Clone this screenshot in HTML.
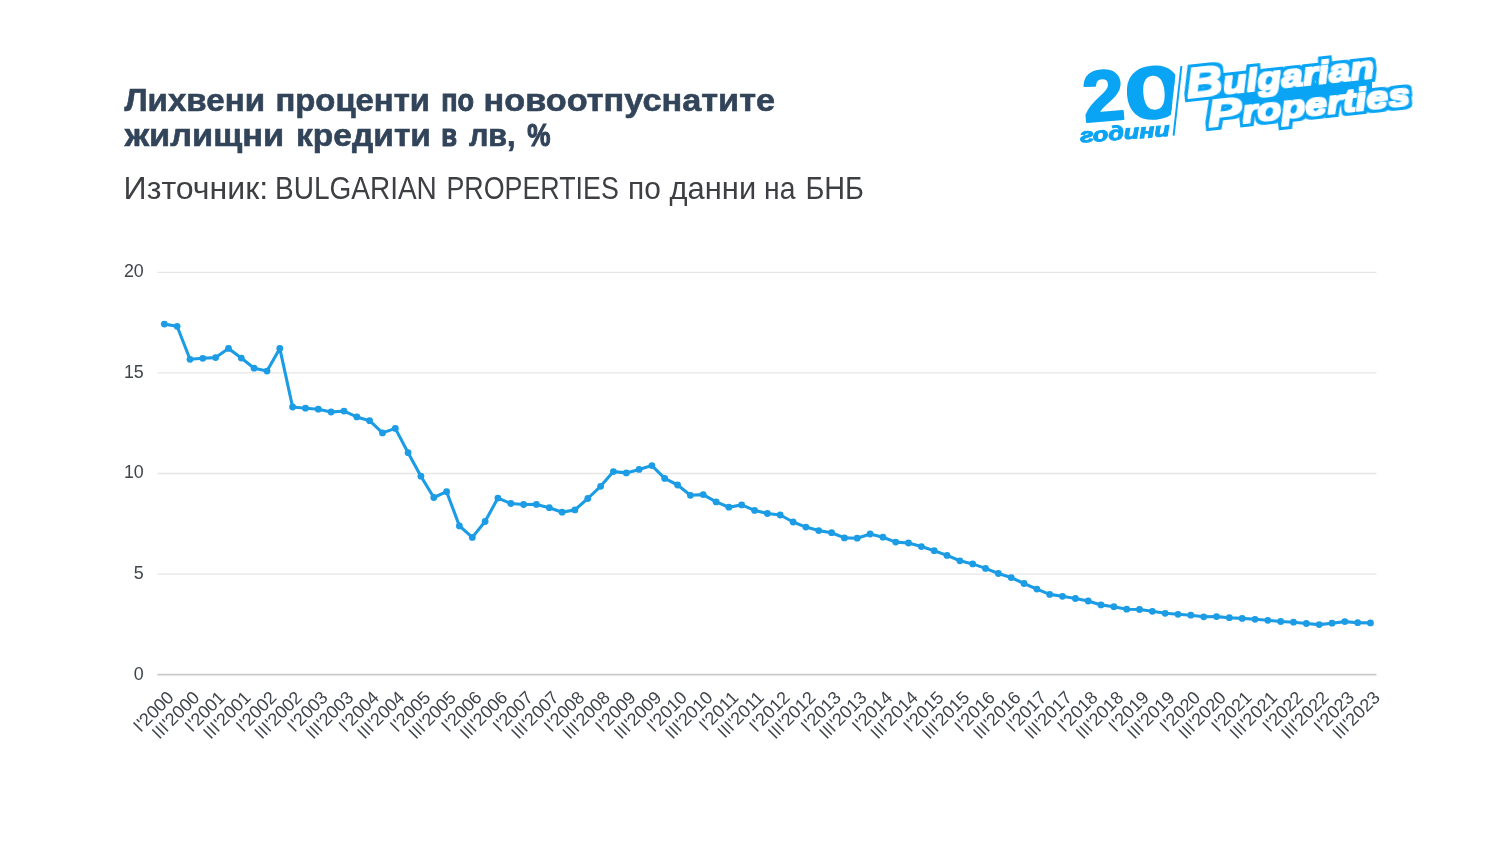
<!DOCTYPE html>
<html lang="bg"><head><meta charset="utf-8"><title>Лихвени проценти</title>
<style>
html,body{margin:0;padding:0;background:#fff;}
body{width:1500px;height:844px;overflow:hidden;font-family:"Liberation Sans",sans-serif;}
svg{display:block;}
text{font-family:"Liberation Sans",sans-serif;}
.t{font-weight:700;font-size:32px;fill:#32445a;stroke:#32445a;stroke-width:0.6px;}
.s{font-size:30.5px;fill:#3d3f43;}
.yl{font-size:19px;fill:#3f444b;text-anchor:end;}
.xl{font-size:18px;fill:#3f444b;text-anchor:end;}
</style></head><body>
<svg width="1500" height="844" viewBox="0 0 1500 844">
<rect width="1500" height="844" fill="#fff"/>
<text class="t" y="111.3"><tspan x="124.40" textLength="140.60" lengthAdjust="spacingAndGlyphs" style="stroke-width:0.60px">Лихвени</tspan> <tspan x="275.40" textLength="154.60" lengthAdjust="spacingAndGlyphs" style="stroke-width:0.60px">проценти</tspan> <tspan x="441.20" textLength="32.80" lengthAdjust="spacingAndGlyphs" style="stroke-width:1.07px">по</tspan> <tspan x="483.60" textLength="291.40" lengthAdjust="spacingAndGlyphs" style="stroke-width:0.60px">новоотпуснатите</tspan></text>
<text class="t" y="146.0"><tspan x="124.71" textLength="159.50" lengthAdjust="spacingAndGlyphs" style="stroke-width:0.60px">жилищни</tspan> <tspan x="296.00" textLength="134.98" lengthAdjust="spacingAndGlyphs" style="stroke-width:0.60px">кредити</tspan> <tspan x="441.20" textLength="15.79" lengthAdjust="spacingAndGlyphs" style="stroke-width:1.19px">в</tspan> <tspan x="469.00" textLength="46.59" lengthAdjust="spacingAndGlyphs" style="stroke-width:0.74px">лв,</tspan> <tspan x="527.20" textLength="23.20" lengthAdjust="spacingAndGlyphs" style="stroke-width:1.15px">%</tspan></text>
<text class="s" y="198.9"><tspan x="123.60" textLength="144.61" lengthAdjust="spacingAndGlyphs">Източник:</tspan> <tspan x="275.00" textLength="161.81" lengthAdjust="spacingAndGlyphs">BULGARIAN</tspan> <tspan x="446.40" textLength="172.39" lengthAdjust="spacingAndGlyphs">PROPERTIES</tspan> <tspan x="628.00" textLength="32.79" lengthAdjust="spacingAndGlyphs">по</tspan> <tspan x="669.60" textLength="86.59" lengthAdjust="spacingAndGlyphs">данни</tspan> <tspan x="764.00" textLength="31.38" lengthAdjust="spacingAndGlyphs">на</tspan> <tspan x="805.40" textLength="58.59" lengthAdjust="spacingAndGlyphs">БНБ</tspan></text>
<line x1="157.5" x2="1376.5" y1="272.3" y2="272.3" stroke="#e6e6e6" stroke-width="1.3"/>
<text class="yl" transform="translate(143.8,277.2) scale(0.94,1)">20</text>
<line x1="157.5" x2="1376.5" y1="372.9" y2="372.9" stroke="#e6e6e6" stroke-width="1.3"/>
<text class="yl" transform="translate(143.8,377.8) scale(0.94,1)">15</text>
<line x1="157.5" x2="1376.5" y1="473.5" y2="473.5" stroke="#e6e6e6" stroke-width="1.3"/>
<text class="yl" transform="translate(143.8,478.4) scale(0.94,1)">10</text>
<line x1="157.5" x2="1376.5" y1="574.1" y2="574.1" stroke="#e6e6e6" stroke-width="1.3"/>
<text class="yl" transform="translate(143.8,579.0) scale(0.94,1)">5</text>
<line x1="157.5" x2="1376.5" y1="674.7" y2="674.7" stroke="#c9c9c9" stroke-width="1.7"/>
<text class="yl" transform="translate(143.8,679.6) scale(0.94,1)">0</text>
<text class="xl" transform="translate(174.9,698.6) rotate(-45)">I'2000</text>
<text class="xl" transform="translate(200.6,698.6) rotate(-45)">III'2000</text>
<text class="xl" transform="translate(226.2,698.6) rotate(-45)">I'2001</text>
<text class="xl" transform="translate(251.9,698.6) rotate(-45)">III'2001</text>
<text class="xl" transform="translate(277.6,698.6) rotate(-45)">I'2002</text>
<text class="xl" transform="translate(303.2,698.6) rotate(-45)">III'2002</text>
<text class="xl" transform="translate(328.9,698.6) rotate(-45)">I'2003</text>
<text class="xl" transform="translate(354.6,698.6) rotate(-45)">III'2003</text>
<text class="xl" transform="translate(380.2,698.6) rotate(-45)">I'2004</text>
<text class="xl" transform="translate(405.9,698.6) rotate(-45)">III'2004</text>
<text class="xl" transform="translate(431.5,698.6) rotate(-45)">I'2005</text>
<text class="xl" transform="translate(457.2,698.6) rotate(-45)">III'2005</text>
<text class="xl" transform="translate(482.9,698.6) rotate(-45)">I'2006</text>
<text class="xl" transform="translate(508.5,698.6) rotate(-45)">III'2006</text>
<text class="xl" transform="translate(534.2,698.6) rotate(-45)">I'2007</text>
<text class="xl" transform="translate(559.9,698.6) rotate(-45)">III'2007</text>
<text class="xl" transform="translate(585.5,698.6) rotate(-45)">I'2008</text>
<text class="xl" transform="translate(611.2,698.6) rotate(-45)">III'2008</text>
<text class="xl" transform="translate(636.9,698.6) rotate(-45)">I'2009</text>
<text class="xl" transform="translate(662.5,698.6) rotate(-45)">III'2009</text>
<text class="xl" transform="translate(688.2,698.6) rotate(-45)">I'2010</text>
<text class="xl" transform="translate(713.8,698.6) rotate(-45)">III'2010</text>
<text class="xl" transform="translate(739.5,698.6) rotate(-45)">I'2011</text>
<text class="xl" transform="translate(765.2,698.6) rotate(-45)">III'2011</text>
<text class="xl" transform="translate(790.8,698.6) rotate(-45)">I'2012</text>
<text class="xl" transform="translate(816.5,698.6) rotate(-45)">III'2012</text>
<text class="xl" transform="translate(842.2,698.6) rotate(-45)">I'2013</text>
<text class="xl" transform="translate(867.8,698.6) rotate(-45)">III'2013</text>
<text class="xl" transform="translate(893.5,698.6) rotate(-45)">I'2014</text>
<text class="xl" transform="translate(919.1,698.6) rotate(-45)">III'2014</text>
<text class="xl" transform="translate(944.8,698.6) rotate(-45)">I'2015</text>
<text class="xl" transform="translate(970.5,698.6) rotate(-45)">III'2015</text>
<text class="xl" transform="translate(996.1,698.6) rotate(-45)">I'2016</text>
<text class="xl" transform="translate(1021.8,698.6) rotate(-45)">III'2016</text>
<text class="xl" transform="translate(1047.5,698.6) rotate(-45)">I'2017</text>
<text class="xl" transform="translate(1073.1,698.6) rotate(-45)">III'2017</text>
<text class="xl" transform="translate(1098.8,698.6) rotate(-45)">I'2018</text>
<text class="xl" transform="translate(1124.5,698.6) rotate(-45)">III'2018</text>
<text class="xl" transform="translate(1150.1,698.6) rotate(-45)">I'2019</text>
<text class="xl" transform="translate(1175.8,698.6) rotate(-45)">III'2019</text>
<text class="xl" transform="translate(1201.4,698.6) rotate(-45)">I'2020</text>
<text class="xl" transform="translate(1227.1,698.6) rotate(-45)">III'2020</text>
<text class="xl" transform="translate(1252.8,698.6) rotate(-45)">I'2021</text>
<text class="xl" transform="translate(1278.4,698.6) rotate(-45)">III'2021</text>
<text class="xl" transform="translate(1304.1,698.6) rotate(-45)">I'2022</text>
<text class="xl" transform="translate(1329.8,698.6) rotate(-45)">III'2022</text>
<text class="xl" transform="translate(1355.4,698.6) rotate(-45)">I'2023</text>
<text class="xl" transform="translate(1381.1,698.6) rotate(-45)">III'2023</text>
<polyline points="164.3,324.1 177.1,326.3 190.0,359.3 202.8,358.3 215.6,357.6 228.5,348.4 241.3,358.1 254.1,368.2 267.0,371.1 279.8,348.4 292.6,407.0 305.5,408.2 318.3,409.2 331.1,412.0 344.0,411.1 356.8,416.9 369.6,420.7 382.5,432.9 395.3,428.4 408.1,452.7 420.9,476.2 433.8,497.5 446.6,491.7 459.4,525.9 472.3,537.4 485.1,521.5 497.9,498.1 510.8,503.5 523.6,504.5 536.4,504.4 549.3,507.7 562.1,512.2 574.9,509.9 587.8,498.5 600.6,486.3 613.4,471.6 626.3,472.9 639.1,469.4 651.9,465.6 664.7,478.4 677.6,485.0 690.4,495.3 703.2,494.6 716.1,501.9 728.9,507.2 741.7,504.9 754.6,510.4 767.4,513.5 780.2,515.0 793.1,522.0 805.9,527.1 818.7,530.6 831.6,532.7 844.4,537.9 857.2,538.2 870.1,534.0 882.9,537.2 895.7,542.1 908.5,543.0 921.4,546.6 934.2,550.7 947.0,555.4 959.9,560.8 972.7,563.9 985.5,568.4 998.4,573.5 1011.2,577.6 1024.0,583.5 1036.9,589.1 1049.7,594.4 1062.5,596.3 1075.4,598.5 1088.2,601.0 1101.0,604.9 1113.9,606.7 1126.7,609.2 1139.5,609.5 1152.3,611.3 1165.2,613.3 1178.0,614.3 1190.8,615.2 1203.7,616.8 1216.5,616.6 1229.3,617.7 1242.2,618.4 1255.0,619.3 1267.8,620.3 1280.7,621.5 1293.5,622.2 1306.3,623.5 1319.2,624.6 1332.0,623.2 1344.8,621.6 1357.7,622.7 1370.5,622.9" fill="none" stroke="#1b9ce5" stroke-width="3.1" stroke-linejoin="round" stroke-linecap="round"/>
<g fill="#1b9ce5">
<circle cx="164.3" cy="324.1" r="3.4"/><circle cx="177.1" cy="326.3" r="3.4"/><circle cx="190.0" cy="359.3" r="3.4"/><circle cx="202.8" cy="358.3" r="3.4"/><circle cx="215.6" cy="357.6" r="3.4"/><circle cx="228.5" cy="348.4" r="3.4"/><circle cx="241.3" cy="358.1" r="3.4"/><circle cx="254.1" cy="368.2" r="3.4"/><circle cx="267.0" cy="371.1" r="3.4"/><circle cx="279.8" cy="348.4" r="3.4"/><circle cx="292.6" cy="407.0" r="3.4"/><circle cx="305.5" cy="408.2" r="3.4"/><circle cx="318.3" cy="409.2" r="3.4"/><circle cx="331.1" cy="412.0" r="3.4"/><circle cx="344.0" cy="411.1" r="3.4"/><circle cx="356.8" cy="416.9" r="3.4"/><circle cx="369.6" cy="420.7" r="3.4"/><circle cx="382.5" cy="432.9" r="3.4"/><circle cx="395.3" cy="428.4" r="3.4"/><circle cx="408.1" cy="452.7" r="3.4"/><circle cx="420.9" cy="476.2" r="3.4"/><circle cx="433.8" cy="497.5" r="3.4"/><circle cx="446.6" cy="491.7" r="3.4"/><circle cx="459.4" cy="525.9" r="3.4"/><circle cx="472.3" cy="537.4" r="3.4"/><circle cx="485.1" cy="521.5" r="3.4"/><circle cx="497.9" cy="498.1" r="3.4"/><circle cx="510.8" cy="503.5" r="3.4"/><circle cx="523.6" cy="504.5" r="3.4"/><circle cx="536.4" cy="504.4" r="3.4"/><circle cx="549.3" cy="507.7" r="3.4"/><circle cx="562.1" cy="512.2" r="3.4"/><circle cx="574.9" cy="509.9" r="3.4"/><circle cx="587.8" cy="498.5" r="3.4"/><circle cx="600.6" cy="486.3" r="3.4"/><circle cx="613.4" cy="471.6" r="3.4"/><circle cx="626.3" cy="472.9" r="3.4"/><circle cx="639.1" cy="469.4" r="3.4"/><circle cx="651.9" cy="465.6" r="3.4"/><circle cx="664.7" cy="478.4" r="3.4"/><circle cx="677.6" cy="485.0" r="3.4"/><circle cx="690.4" cy="495.3" r="3.4"/><circle cx="703.2" cy="494.6" r="3.4"/><circle cx="716.1" cy="501.9" r="3.4"/><circle cx="728.9" cy="507.2" r="3.4"/><circle cx="741.7" cy="504.9" r="3.4"/><circle cx="754.6" cy="510.4" r="3.4"/><circle cx="767.4" cy="513.5" r="3.4"/><circle cx="780.2" cy="515.0" r="3.4"/><circle cx="793.1" cy="522.0" r="3.4"/><circle cx="805.9" cy="527.1" r="3.4"/><circle cx="818.7" cy="530.6" r="3.4"/><circle cx="831.6" cy="532.7" r="3.4"/><circle cx="844.4" cy="537.9" r="3.4"/><circle cx="857.2" cy="538.2" r="3.4"/><circle cx="870.1" cy="534.0" r="3.4"/><circle cx="882.9" cy="537.2" r="3.4"/><circle cx="895.7" cy="542.1" r="3.4"/><circle cx="908.5" cy="543.0" r="3.4"/><circle cx="921.4" cy="546.6" r="3.4"/><circle cx="934.2" cy="550.7" r="3.4"/><circle cx="947.0" cy="555.4" r="3.4"/><circle cx="959.9" cy="560.8" r="3.4"/><circle cx="972.7" cy="563.9" r="3.4"/><circle cx="985.5" cy="568.4" r="3.4"/><circle cx="998.4" cy="573.5" r="3.4"/><circle cx="1011.2" cy="577.6" r="3.4"/><circle cx="1024.0" cy="583.5" r="3.4"/><circle cx="1036.9" cy="589.1" r="3.4"/><circle cx="1049.7" cy="594.4" r="3.4"/><circle cx="1062.5" cy="596.3" r="3.4"/><circle cx="1075.4" cy="598.5" r="3.4"/><circle cx="1088.2" cy="601.0" r="3.4"/><circle cx="1101.0" cy="604.9" r="3.4"/><circle cx="1113.9" cy="606.7" r="3.4"/><circle cx="1126.7" cy="609.2" r="3.4"/><circle cx="1139.5" cy="609.5" r="3.4"/><circle cx="1152.3" cy="611.3" r="3.4"/><circle cx="1165.2" cy="613.3" r="3.4"/><circle cx="1178.0" cy="614.3" r="3.4"/><circle cx="1190.8" cy="615.2" r="3.4"/><circle cx="1203.7" cy="616.8" r="3.4"/><circle cx="1216.5" cy="616.6" r="3.4"/><circle cx="1229.3" cy="617.7" r="3.4"/><circle cx="1242.2" cy="618.4" r="3.4"/><circle cx="1255.0" cy="619.3" r="3.4"/><circle cx="1267.8" cy="620.3" r="3.4"/><circle cx="1280.7" cy="621.5" r="3.4"/><circle cx="1293.5" cy="622.2" r="3.4"/><circle cx="1306.3" cy="623.5" r="3.4"/><circle cx="1319.2" cy="624.6" r="3.4"/><circle cx="1332.0" cy="623.2" r="3.4"/><circle cx="1344.8" cy="621.6" r="3.4"/><circle cx="1357.7" cy="622.7" r="3.4"/><circle cx="1370.5" cy="622.9" r="3.4"/>
</g>
<g id="logo">
<clipPath id="c20"><polygon points="1060,40 1179.3,40 1167.5,145 1060,160"/></clipPath>
<g clip-path="url(#c20)"><text transform="translate(1084.6,122.3) rotate(-4.8)" style="font-weight:700;font-size:72px" fill="#0aa4f4" stroke="#0aa4f4" stroke-linejoin="round"><tspan stroke-width="2" textLength="42" lengthAdjust="spacingAndGlyphs">2</tspan><tspan style="font-family:DejaVu Sans,sans-serif;font-weight:400;font-size:65px" stroke-width="5" textLength="59" lengthAdjust="spacingAndGlyphs">0</tspan></text></g>
<text transform="translate(1080.5,142.6) rotate(-4.3)" style="font-weight:700;font-style:italic;font-size:20px" fill="#0aa4f4" stroke="#0aa4f4" stroke-width="1" textLength="90" lengthAdjust="spacingAndGlyphs">години</text>
<line x1="1181.4" y1="66" x2="1173.6" y2="135.6" stroke="#0aa4f4" stroke-width="2"/>
<filter id="ol" x="-5%" y="-30%" width="110%" height="160%" color-interpolation-filters="sRGB"><feMorphology in="SourceAlpha" operator="dilate" radius="3.9" result="o"/><feFlood flood-color="#0aa4f4"/><feComposite in2="o" operator="in" result="blue"/><feMorphology in="SourceAlpha" operator="dilate" radius="1.0" result="w"/><feFlood flood-color="#fff"/><feComposite in2="w" operator="in" result="white"/><feMerge><feMergeNode in="blue"/><feMergeNode in="white"/></feMerge></filter>
<polygon points="1225,92 1372,77 1372,94 1245,109" fill="#0aa4f4"/>
<text transform="translate(1187.8,98.0) rotate(-6.2)" style="font-weight:700;font-style:italic" fill="#fff" filter="url(#ol)"><tspan style="font-size:42px" textLength="36.2" lengthAdjust="spacingAndGlyphs">B</tspan><tspan style="font-size:31px" textLength="152.3" lengthAdjust="spacingAndGlyphs">ulgarian</tspan> <tspan x="17.7" y="31.1" style="font-size:36.5px" textLength="34.5" lengthAdjust="spacingAndGlyphs">P</tspan><tspan style="font-size:32px" textLength="169" lengthAdjust="spacingAndGlyphs">roperties</tspan></text>
</g>
</svg>
</body></html>
